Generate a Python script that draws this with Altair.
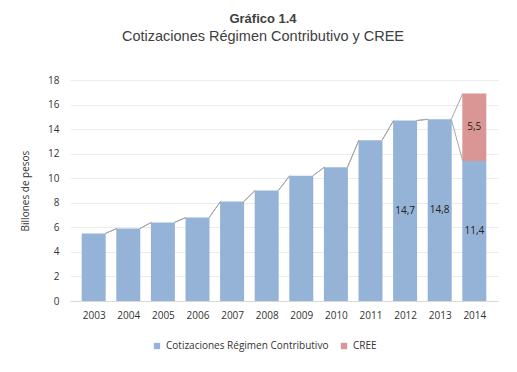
import altair as alt
import pandas as pd

years = [2003, 2004, 2005, 2006, 2007, 2008, 2009, 2010, 2011, 2012, 2013, 2014]
regimen = [5.5, 5.9, 6.4, 6.8, 8.1, 9.0, 10.2, 10.9, 13.1, 14.7, 14.8, 11.4]
cree = [0, 0, 0, 0, 0, 0, 0, 0, 0, 0, 0, 5.5]
series_names = ["Cotizaciones Régimen Contributivo", "CREE"]
colors = ["#95B3D7", "#D99694"]
label_years = [2012, 2013, 2014]
y_ticks = [0, 2, 4, 6, 8, 10, 12, 14, 16, 18]

HW = 0.335  # half bar width in year units (style)

rows = []
for yr, r, c in zip(years, regimen, cree):
    rows.append({"year": yr, "serie": series_names[0], "lo": 0.0, "hi": r, "v": r})
    if c > 0:
        rows.append({"year": yr, "serie": series_names[1], "lo": r, "hi": r + c, "v": c})
bars = pd.DataFrame(rows)
bars["mid"] = (bars["lo"] + bars["hi"]) / 2
bars["label"] = bars["v"].map(lambda v: f"{v:.1f}".replace(".", ","))
bars["show"] = bars["year"].isin(label_years)

seg = []
tops_a = regimen
tops_b = [r + c for r, c in zip(regimen, cree)]
for tops in (tops_a, tops_b):
    for i in range(len(years) - 1):
        seg.append({"x": years[i] + HW, "x2": years[i + 1] - HW, "y": tops[i], "y2": tops[i + 1]})
segs = pd.DataFrame(seg)

xscale = alt.Scale(domain=[2002.46, 2014.54], nice=False, zero=False)
yscale = alt.Scale(domain=[0, 18], nice=False)

xaxis = alt.Axis(values=years, format="d", title=None, grid=False, ticks=False,
                 domainColor="#d9d9d9", labelFont="Open Sans", labelFontSize=10,
                 labelColor="#333333", labelPadding=9, labelOverlap=False)
yaxis = alt.Axis(values=y_ticks, title="Billones de pesos", domain=False, ticks=False,
                 gridColor="#ececec", labelFont="Open Sans", labelFontSize=10,
                 labelColor="#333333", labelPadding=11, labelOverlap=False,
                 titleFont="Open Sans", titleFontSize=10, titleFontWeight="normal",
                 titleColor="#333333", titlePadding=17)

bar = alt.Chart(bars).mark_bar(size=24).encode(
    x=alt.X("year:Q", scale=xscale, axis=xaxis),
    y=alt.Y("lo:Q", scale=yscale, axis=yaxis),
    y2="hi:Q",
    color=alt.Color("serie:N", scale=alt.Scale(domain=series_names, range=colors),
                    legend=alt.Legend(title=None, orient="none", legendX=82, legendY=261,
                                      direction="horizontal", symbolType="square", symbolSize=40,
                                      symbolStrokeWidth=0, labelFont="Open Sans", labelFontSize=10,
                                      labelColor="#333333", columnPadding=10, symbolOffset=0,
                                      labelLimit=0)),
)

lines = alt.Chart(segs).mark_rule(color="#a6a6a6", strokeWidth=1).encode(
    x=alt.X("x:Q", scale=xscale, axis=xaxis), x2="x2:Q",
    y=alt.Y("y:Q", scale=yscale, axis=yaxis), y2="y2:Q",
)

text = alt.Chart(bars).transform_filter("datum.show").mark_text(
    font="Open Sans", fontSize=10, color="#222222"
).encode(
    x=alt.X("year:Q", scale=xscale, axis=xaxis),
    y=alt.Y("mid:Q", scale=yscale, axis=yaxis),
    text="label:N",
)

chart = alt.layer(bar, lines, text).properties(
    width=428, height=221,
    title=alt.TitleParams(text="Gráfico 1.4", subtitle="Cotizaciones Régimen Contributivo y CREE",
                          font="Liberation Sans", fontSize=13, fontWeight="bold", color="#404040",
                          subtitleFont="Liberation Sans", subtitleFontSize=14.5, subtitleColor="#404040",
                          subtitlePadding=4, anchor="middle", dx=-21, offset=32),
    autosize=alt.AutoSizeParams(type="none"),
    padding={"left": 62, "top": 72, "right": 11, "bottom": 63},
).configure_view(stroke=None).configure_axis(labelOverlap=False)

chart.save("out.html", embed_options={"renderer": "svg", "actions": False})
